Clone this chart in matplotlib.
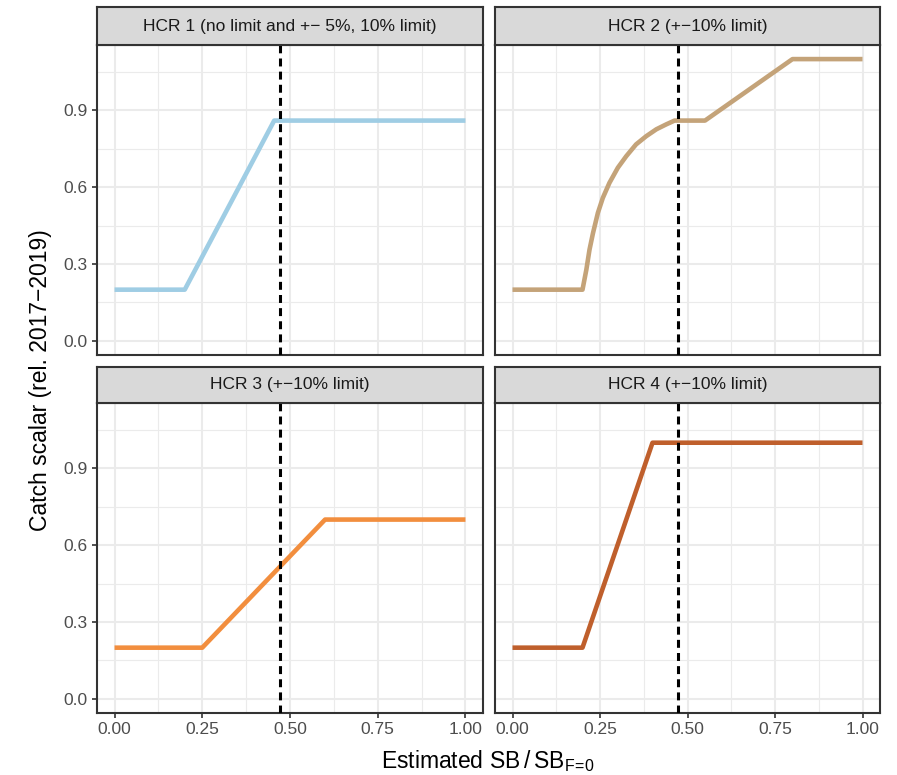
import matplotlib
matplotlib.use("Agg")
import matplotlib.pyplot as plt
from matplotlib.ticker import FixedLocator

plt.rcParams['font.family'] = ['Liberation Sans', 'DejaVu Sans']

# ---- data ----
titles = ["HCR 1 (no limit and +\u2212 5%, 10% limit)", "HCR 2 (+\u221210% limit)",
          "HCR 3 (+\u221210% limit)", "HCR 4 (+\u221210% limit)"]
hcr1_x = [0.0, 0.2, 0.455, 1.0]
hcr1_y = [0.2, 0.2, 0.86, 0.86]
hcr2_x = [0.0, 0.200, 0.211, 0.220, 0.230, 0.244, 0.258, 0.277, 0.301, 0.325, 0.353,
          0.382, 0.411, 0.439, 0.463, 0.55, 0.80, 1.0]
hcr2_y = [0.2, 0.2, 0.278, 0.356, 0.421, 0.500, 0.558, 0.617, 0.676, 0.721, 0.767,
          0.799, 0.826, 0.845, 0.86, 0.86, 1.1, 1.1]
hcr3_x = [0.0, 0.25, 0.6, 1.0]
hcr3_y = [0.2, 0.2, 0.7, 0.7]
hcr4_x = [0.0, 0.2, 0.4, 1.0]
hcr4_y = [0.2, 0.2, 1.0, 1.0]
ref_x = 0.472
colors = ["#9FCDE4", "#C4A379", "#F28E3E", "#BF5F2C"]
xticks = [0.0, 0.25, 0.5, 0.75, 1.0]
xtick_labels = ["0.00", "0.25", "0.50", "0.75", "1.00"]
yticks = [0.0, 0.3, 0.6, 0.9]
ytick_labels = ["0.0", "0.3", "0.6", "0.9"]

series = [(hcr1_x, hcr1_y), (hcr2_x, hcr2_y), (hcr3_x, hcr3_y), (hcr4_x, hcr4_y)]

W, H = 897, 775
fig = plt.figure(figsize=(W / 100, H / 100), dpi=100)
fig.patch.set_facecolor('white')

cols = [(97, 483), (495, 880)]
rows = [((7, 45), (45, 355)), ((367, 403), (403, 713))]

def px_rect(x0, x1, y0, y1):
    return [x0 / W, 1 - y1 / H, (x1 - x0) / W, (y1 - y0) / H]

ymin, ymax = -0.055, 1.155
xmin, xmax = -0.05, 1.05

for i in range(4):
    r, c = divmod(i, 2)
    (sy0, sy1), (py0, py1) = rows[r]
    x0, x1 = cols[c]
    ax = fig.add_axes(px_rect(x0, x1, py0, py1))
    ax.set_xlim(xmin, xmax)
    ax.set_ylim(ymin, ymax)
    ax.xaxis.set_major_locator(FixedLocator(xticks))
    ax.yaxis.set_major_locator(FixedLocator(yticks))
    ax.xaxis.set_minor_locator(FixedLocator([0.125, 0.375, 0.625, 0.875]))
    ax.yaxis.set_minor_locator(FixedLocator([0.15, 0.45, 0.75, 1.05]))
    ax.grid(True, which='major', color='#EBEBEB', linewidth=1.5, zorder=0)
    ax.grid(True, which='minor', color='#EBEBEB', linewidth=0.8, zorder=0)
    ax.set_axisbelow(True)
    for sp in ax.spines.values():
        sp.set_color('#333333')
        sp.set_linewidth(1.5)
    ax.tick_params(which='minor', length=0)
    ax.tick_params(which='major', direction='out', length=3.5, width=1.2, color='#333333',
                   labelsize=12.5, labelcolor='#4D4D4D', pad=3)
    if r == 1:
        ax.set_xticklabels(xtick_labels)
    else:
        ax.tick_params(axis='x', which='major', length=0, labelbottom=False)
    if c == 0:
        ax.set_yticklabels(ytick_labels)
    else:
        ax.tick_params(axis='y', which='major', length=0, labelleft=False)

    xs, ys = series[i]
    ax.plot(xs, ys, color=colors[i], linewidth=3.3, solid_capstyle='butt',
            solid_joinstyle='round', zorder=3)
    ax.axvline(ref_x, color='black', linewidth=2.2, linestyle=(0, (2.6, 1.7)), zorder=4)

    sax = fig.add_axes(px_rect(x0, x1, sy0, sy1))
    sax.set_facecolor('#D9D9D9')
    sax.set_xticks([])
    sax.set_yticks([])
    for sp in sax.spines.values():
        sp.set_color('#333333')
        sp.set_linewidth(1.5)
    sax.text(0.5, 0.5, titles[i], ha='center', va='center', fontsize=12.5,
             color='#1A1A1A', transform=sax.transAxes)

fig.text(40 / W, 1 - 380 / H, "Catch scalar (rel. 2017\u22122019)", rotation=90,
         ha='center', va='center', fontsize=16.5, color='black')
fig.text(488 / W, 1 - 761 / H, r"Estimated SB$\mathregular{\,/\,}$SB$\mathregular{_{F\!=\!0}}$",
         ha='center', va='center', fontsize=16.5, color='black')

fig.savefig("out.png", dpi=100, facecolor='white')
